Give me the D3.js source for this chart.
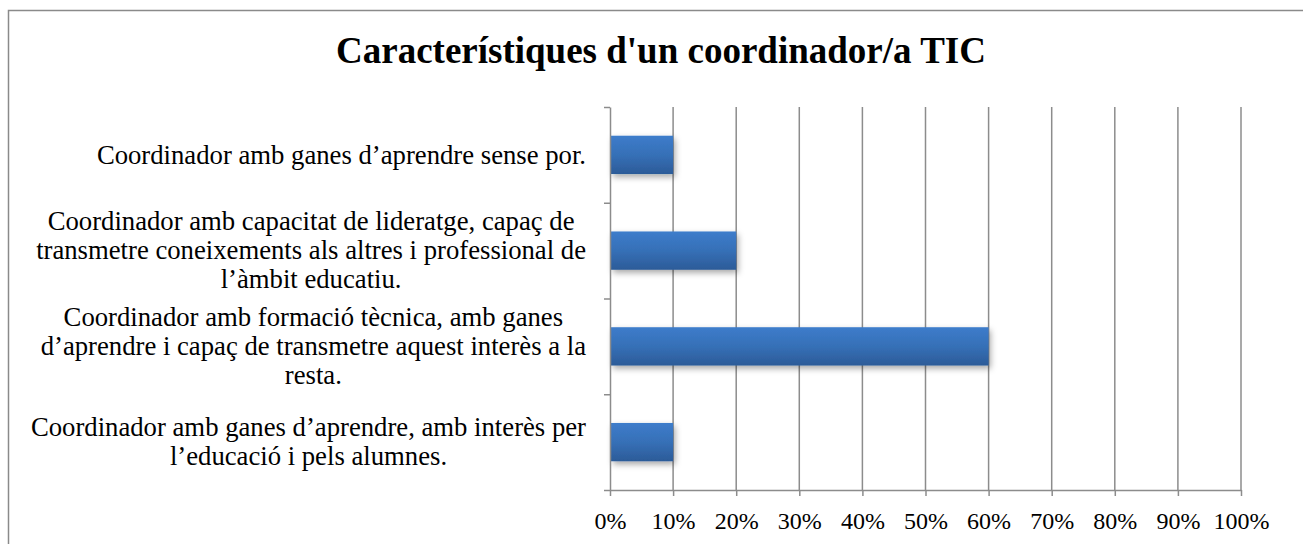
<!DOCTYPE html>
<html>
<head>
<meta charset="utf-8">
<script src="https://cdn.jsdelivr.net/npm/d3@7"></script>
<style>
  body { margin: 0; background: #fff; }
  svg { display: block; }
  text { font-family: "Liberation Serif", "Times New Roman", serif; fill: #000; }
</style>
</head>
<body>
<svg width="1303" height="544"></svg>
<script>
// data, top to bottom as shown
let title_text = "Característiques d'un coordinador/a TIC";
let categories = [
  ["Coordinador amb ganes d’aprendre sense por."],
  ["Coordinador amb capacitat de lideratge, capaç de",
   "transmetre coneixements als altres i professional de",
   "l’àmbit educatiu."],
  ["Coordinador amb formació tècnica, amb ganes",
   "d’aprendre i capaç de transmetre aquest interès a la",
   "resta."],
  ["Coordinador amb ganes d’aprendre, amb interès per",
   "l’educació i pels alumnes."]
];
let values = [0.10, 0.20, 0.60, 0.10];
let x_ticks = [0, 0.1, 0.2, 0.3, 0.4, 0.5, 0.6, 0.7, 0.8, 0.9, 1.0];

var margin = { top: 107, right: 62, bottom: 54, left: 610 };
let width = 1303 - margin.left - margin.right;
let height = 544 - margin.top - margin.bottom;
let grid_color = "#8c8c8c";
let serif = '"Liberation Serif", "Times New Roman", serif';

var svg = d3.select("svg");

// defs: gradient + shadow for the bars
let defs = svg.append("defs");
let grad = defs.append("linearGradient")
  .attr("id", "barGrad")
  .attr("x1", 0).attr("y1", 0).attr("x2", 0).attr("y2", 1);
grad.append("stop").attr("offset", "0%").attr("stop-color", "#3d7ccb");
grad.append("stop").attr("offset", "50%").attr("stop-color", "#3670b7");
grad.append("stop").attr("offset", "100%").attr("stop-color", "#2c5b98");

let shadow = defs.append("filter")
  .attr("id", "shadow")
  .attr("x", "-10%").attr("y", "-30%")
  .attr("width", "130%").attr("height", "180%");
shadow.append("feDropShadow")
  .attr("dx", 2).attr("dy", 3)
  .attr("stdDeviation", 3)
  .attr("flood-color", "#000")
  .attr("flood-opacity", 0.35);

// outer chart border (right/bottom run off the picture)
svg.append("rect")
  .attr("x", 8.5).attr("y", 10.5)
  .attr("width", 1320).attr("height", 560)
  .attr("fill", "none")
  .attr("stroke", "#8a8a8a")
  .attr("stroke-width", 1.5);

// title
svg.append("text")
  .attr("x", 661)
  .attr("y", 63)
  .style("text-anchor", "middle")
  .style("font-weight", "bold")
  .style("font-family", serif)
  .style("font-size", "37px")
  .text(title_text);

var g = svg.append("g")
  .attr("transform", "translate(" + margin.left + "," + margin.top + ")");

// scales
var xScale = d3.scaleLinear().domain([0, 1]).range([0, width]);
var yScale = d3.scaleBand()
  .domain(d3.range(categories.length))
  .range([0, height])
  .paddingInner(0.6)
  .paddingOuter(0.3);
// category boundaries for the tick marks
var yEdge = d3.scaleLinear().domain([0, categories.length]).range([0, height]);

// vertical gridlines
g.append("g")
  .attr("class", "grid")
  .selectAll("line")
  .data(x_ticks.slice(1))
  .enter()
  .append("line")
  .attr("x1", d => xScale(d)).attr("x2", d => xScale(d))
  .attr("y1", 0).attr("y2", height)
  .attr("stroke", grid_color)
  .attr("stroke-width", 1.5);

// bars
g.selectAll(".bar")
  .data(values)
  .enter()
  .append("rect")
  .attr("class", "bar")
  .attr("x", xScale(0) + 1)
  .attr("y", (d, i) => yScale(i))
  .attr("width", d => xScale(d) - xScale(0) - 1)
  .attr("height", yScale.bandwidth())
  .attr("fill", "url(#barGrad)")
  .attr("filter", "url(#shadow)");

// x axis
var xAxis = d3.axisBottom(xScale)
  .tickValues(x_ticks)
  .tickFormat(d3.format(".0%"))
  .tickSize(6)
  .tickSizeOuter(0);

let xg = g.append("g")
  .attr("class", "x axis")
  .attr("transform", "translate(0," + height + ")")
  .call(xAxis);
xg.select(".domain").attr("stroke", grid_color).attr("stroke-width", 1.5);
xg.selectAll(".tick line").attr("stroke", grid_color).attr("stroke-width", 1.5);
xg.selectAll(".tick text")
  .attr("y", 39)
  .attr("dy", 0)
  .style("font-size", "24px")
  .style("font-family", serif)
  .attr("fill", "#000");

// y axis: ticks at category boundaries
var yAxis = d3.axisLeft(yEdge)
  .tickValues(d3.range(categories.length + 1))
  .tickFormat("")
  .tickSize(6)
  .tickSizeOuter(0);
let yg = g.append("g")
  .attr("class", "y axis")
  .call(yAxis);
yg.select(".domain").attr("stroke", grid_color).attr("stroke-width", 1.5);
yg.selectAll(".tick line").attr("stroke", grid_color).attr("stroke-width", 1.5);

// category labels: widest line right-aligned, lines centred on it
let label_size = 26.7;
let line_h = 29;
let label_right = -24;
let labels = g.append("g").attr("class", "labels");
categories.forEach((lines, i) => {
  let cy = yScale(i) + yScale.bandwidth() / 2;
  let lg = labels.append("g");
  let texts = lg.selectAll("text")
    .data(lines)
    .enter()
    .append("text")
    .style("font-size", label_size + "px")
    .style("font-family", serif)
    .attr("y", (d, j) => cy + (j - (lines.length - 1) / 2) * line_h + label_size * 0.33)
    .text(d => d);
  let w = d3.max(texts.nodes(), n => n.getComputedTextLength());
  texts
    .attr("x", label_right - w / 2)
    .style("text-anchor", "middle");
});
</script>
</body>
</html>
